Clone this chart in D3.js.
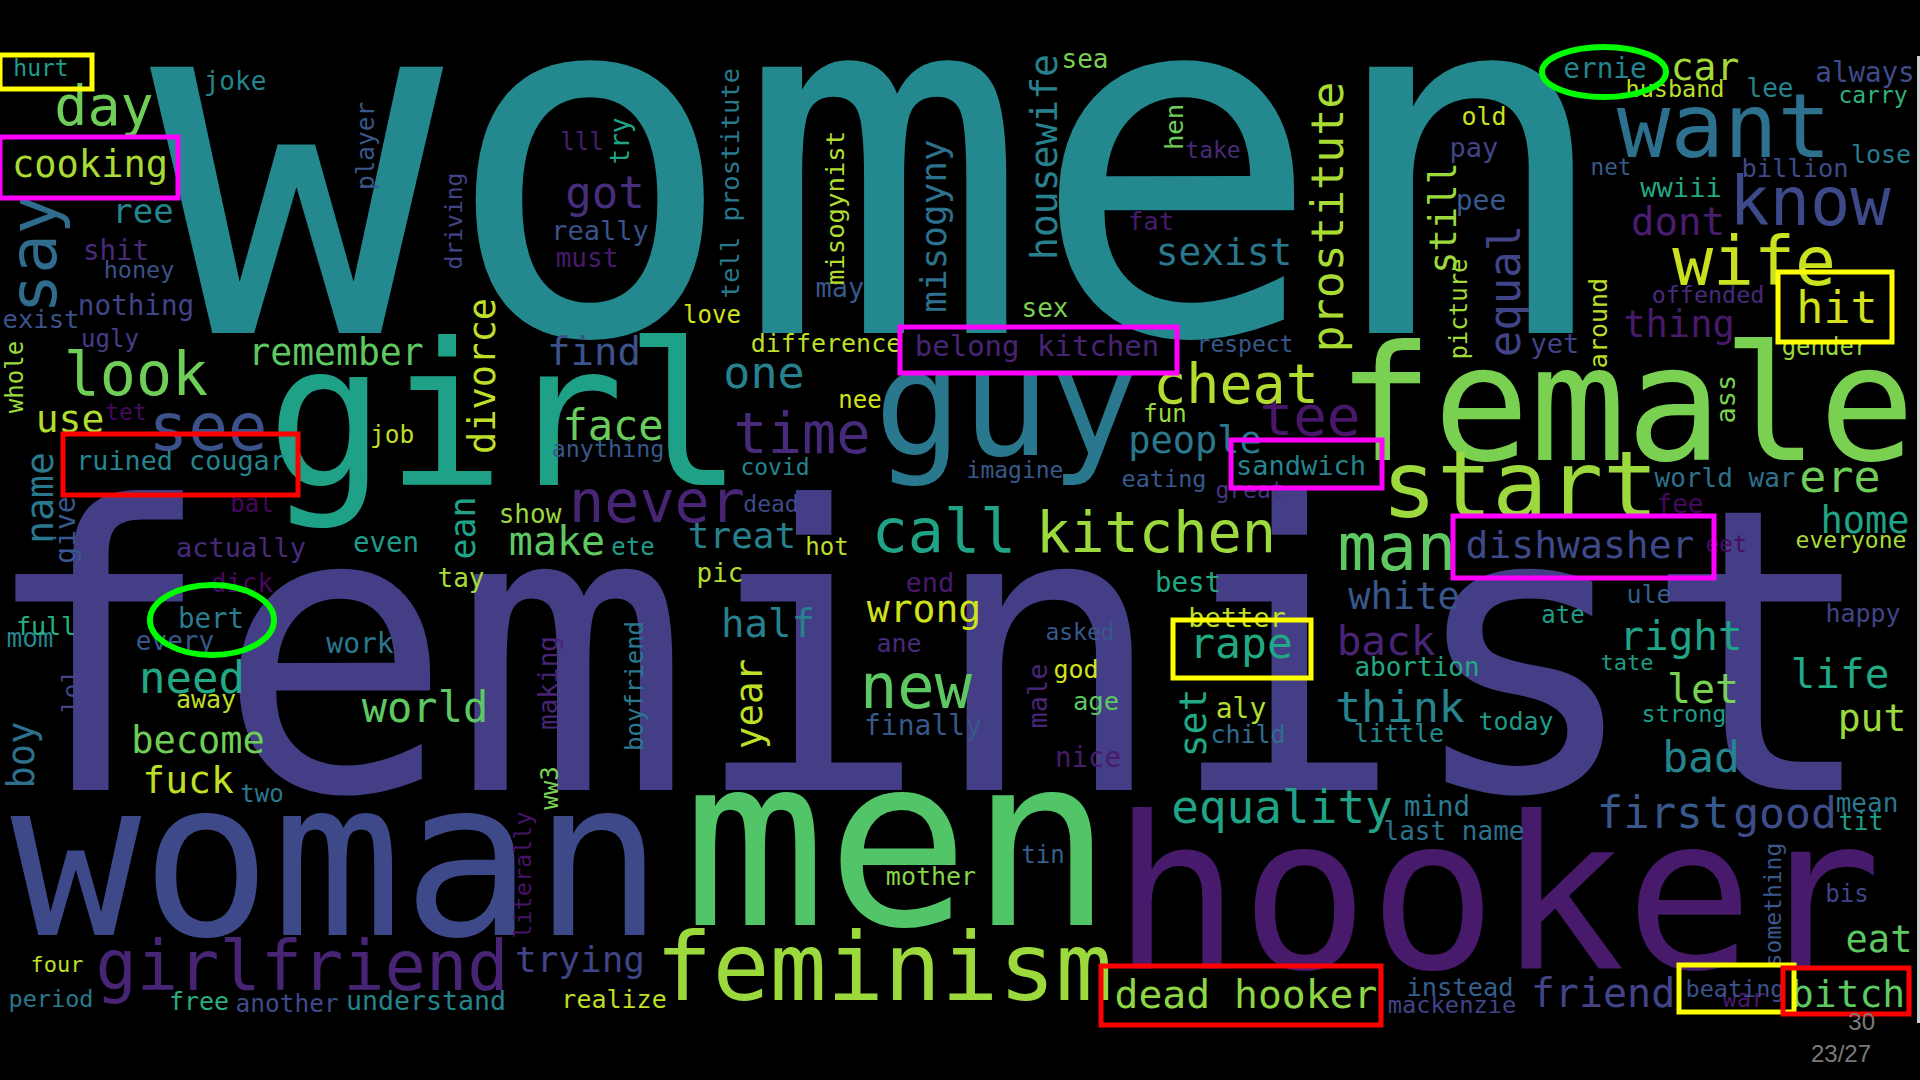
<!DOCTYPE html>
<html>
<head>
<meta charset="utf-8">
<script src="https://cdn.jsdelivr.net/npm/d3@7"></script>
<style>
  html, body { margin: 0; padding: 0; background: #000; }
  svg { display: block; }
</style>
</head>
<body>
<div class="chart"></div>
<script>
// word cloud - words found in comments, with highlighted terms

// word, weight (font px), colour tone on viridis 0..1
const cloudWords = [
  ['women', 487, .47], ['feminist', 395, .18], ['girl', 198, .57], ['woman', 217, .22],
  ['men', 238, .73], ['hooker', 213, .07], ['female', 160, .8], ['guy', 146, .4],
  ['feminism', 95, .85], ['start', 92, .85], ['want', 89, .37], ['girlfriend', 68.6, .1],
  ['wife', 68, .92], ['know', 67, .22], ['see', 66, .25], ['man', 66, .75], ['say', 66, .35],
  ['new', 62, .75], ['look', 60, .78], ['call', 60, .58], ['never', 58.5, .1],
  ['kitchen', 57, .85], ['time', 57, .12], ['tee', 56, .06], ['cheat', 55, .88], ['day', 55, .78],
  ['equality', 46, .58], ['hit', 45, .93], ['one', 45, .43], ['ere', 45, .78], ['prostitute', 45, .87],
  ['got', 44, .13], ['need', 44, .6], ['first', 44, .27], ['equal', 44, .2],
  ['rape', 43, .6], ['think', 43, .45], ['good', 43, .23], ['bad', 43, .45],
  ['face', 42, .77], ['world', 42, .75], ['back', 41, .1], ['right', 41, .58], ['life', 41, .6],
  ['make', 40, .75], ['let', 40, .8], ['friend', 40, .2], ['dead hooker', 39.7, .83],
  ['find', 39, .25], ['dont', 39, .08], ['half', 39, .43],
  ['car', 38, .86], ['use', 38, .88], ['wrong', 38, .93], ['dishwasher', 38, .22], ['put', 38, .85],
  ['fuck', 38, .9], ['bitch', 38, .75], ['sexist', 37.8, .4], ['housewife', 38, .43], ['name', 38, .4],
  ['set', 38, .6], ['year', 37.5, .9], ['cooking', 37, .87], ['thing', 37, .07], ['people', 37, .4],
  ['white', 37, .27], ['home', 37, .58], ['become', 37, .78], ['eat', 37, .75], ['still', 37, .85],
  ['divorce', 37, .9], ['boy', 37, .37], ['remember', 36.4, .75], ['ree', 34, .45], ['treat', 36, .43],
  ['trying', 36, .2], ['misogyny', 36, .37], ['ean', 35, .58],
  ['belong kitchen', 29, .1], ['nothing', 27.6, .2], ['shit', 27.5, .12], ['always', 27.5, .23],
  ['even', 27.5, .55], ['dick', 25.7, .02], ['bert', 27.5, .42], ['best', 27.5, .6], ['mind', 27.5, .4],
  ['nice', 27.5, .07], ['ernie', 27.7, .45], ['really', 27, .25], ['may', 27, .27], ['pay', 27, .2],
  ['wwiii', 27, .6], ['yet', 27, .2], ['actually', 27, .12], ['end', 27, .07], ['sandwich', 27, .45],
  ['better', 27, .9], ['ass', 27, .8], ['male', 27, .1], ['ruined cougar', 26.8, .45],
  ['understand', 26.6, .45], ['pee', 28, .27], ['work', 28, .4], ['aly', 28, .88], ['finally', 28, .27],
  ['give', 28, .27], ['joke', 26, .45], ['must', 26, .07], ['sea', 26, .8], ['sex', 26, .8],
  ['lee', 26, .45], ['tay', 26, .87], ['mom', 26, .45], ['every', 26, .27], ['show', 26, .85],
  ['pic', 26, .88], ['abortion', 26, .6], ['world war', 26, .37], ['fee', 26, .02],
  ['last name', 26, .37], ['mean', 26, .4], ['try', 26, .58], ['making', 26, .1],
  ['fat', 25.6, .07], ['exist', 25.6, .25], ['misogynist', 25.6, .88], ['hen', 25.6, .78],
  ['age', 25.6, .75], ['tell prostitute', 25.5, .4], ['billion', 25.4, .22], ['instead', 25.4, .3],
  ['difference', 25, .9], ['lose', 25, .42], ['old', 25, .92], ['full', 25, .63], ['away', 25, .9],
  ['ane', 25, .12], ['god', 25, .93], ['ule', 25, .3], ['happy', 25, .2], ['today', 25, .55],
  ['little', 25, .47], ['child', 25, .35], ['tit', 25, .55], ['mother', 25, .82], ['realize', 25, .9],
  ['free', 25, .63], ['lol', 25, .2], ['around', 25, .9],
  ['job', 24.5, .9], ['another', 24.5, .23], ['lll', 24, .08], ['love', 24, .93], ['ugly', 24, .18],
  ['bal', 24, .02], ['nee', 24, .93], ['ete', 24, .55], ['hot', 24, .9], ['fun', 24, .85],
  ['ate', 24, .55], ['gender', 24, .85], ['tin', 24, .3], ['bis', 24, .2], ['war', 24, .06],
  ['two', 24, .4], ['player', 24.4, .27], ['whole', 24, .85], ['picture', 24, .86], ['boyfriend', 24, .4],
  ['ww3', 24, .8], ['mackenzie', 23.7, .2], ['honey', 23.5, .25], ['husband', 23.5, .9],
  ['offended', 23.4, .12], ['anything', 23.4, .27], ['eating', 23.5, .27], ['strong', 23.5, .55],
  ['beating', 23.5, .25], ['period', 23.5, .4], ['literally', 23.5, .05], ['hurt', 23, .55],
  ['take', 23, .12], ['respect', 23, .27], ['carry', 23, .65], ['tet', 23, .02], ['covid', 23, .45],
  ['dead', 23, .22], ['imagine', 23, .27], ['great', 23, .15], ['asked', 23, .27],
  ['eet', 23, .03], ['everyone', 23, .87], ['driving', 23, .2], ['something', 23, .27],
  ['net', 22.6, .28], ['tate', 22, .55], ['four', 22, .9]
]

// placement in the 1920 x 1080 picture: [x, y, rotated]
// flat words: centre x, baseline y; rotated words: baseline x, centre y
const cloudLayout = {
  women: [883, 333, 0], feminist: [929, 790, 0], girl: [505, 485, 0], woman: [337, 935, 0],
  men: [898, 925, 0], hooker: [1497, 968, 0], female: [1626, 460, 0], guy: [1006, 455, 0],
  feminism: [884, 1000, 0], start: [1520, 517, 0], want: [1724, 157, 0], girlfriend: [302, 990, 0],
  wife: [1754, 285, 0], know: [1810, 225, 0], see: [208, 450, 0], man: [1397, 570, 0], say: [56, 254, 1],
  new: [916, 708, 0], look: [136, 395, 0], call: [944, 552, 0], never: [657, 522, 0],
  kitchen: [1156, 552, 0], time: [802, 453, 0], tee: [1310, 435, 0], cheat: [1236, 403, 0], day: [104, 125, 0],
  equality: [1282, 823, 0], hit: [1837, 323, 0], one: [764, 388, 0], ere: [1840, 492, 0], prostitute: [1343, 217, 1],
  got: [605, 208, 0], need: [192, 693, 0], first: [1663, 828, 0], equal: [1520, 291, 1],
  rape: [1241, 658, 0], think: [1400, 722, 0], good: [1785, 828, 0], bad: [1701, 772, 0],
  face: [613, 440, 0], world: [425, 722, 0], back: [1386, 655, 0], right: [1681, 650, 0], life: [1840, 688, 0],
  make: [557, 555, 0], let: [1703, 703, 0], friend: [1603, 1007, 0], 'dead hooker': [1246, 1008, 0],
  find: [594, 365, 0], dont: [1678, 235, 0], half: [768, 637, 0],
  car: [1705, 80, 0], use: [70, 432, 0], wrong: [924, 622, 0], dishwasher: [1580, 558, 0], put: [1872, 731, 0],
  fuck: [188, 793, 0], bitch: [1848, 1007, 0], sexist: [1224, 265, 0], housewife: [1057, 157, 1], name: [53, 498, 1],
  set: [1206, 723, 1], year: [762, 704, 1], cooking: [90, 177, 0], thing: [1679, 337, 0], people: [1195, 453, 0],
  white: [1404, 609, 0], home: [1865, 533, 0], become: [198, 753, 0], eat: [1879, 952, 0], still: [1456, 218, 1],
  divorce: [495, 376, 1], boy: [34, 755, 1], remember: [336, 365, 0], ree: [143, 223, 0], treat: [742, 548, 0],
  trying: [580, 972, 0], misogyny: [946, 226, 1], ean: [475, 528, 1],
  'belong kitchen': [1037, 356, 0], nothing: [136, 315, 0], shit: [116, 260, 0], always: [1865, 82, 0],
  even: [386, 552, 0], dick: [242, 592, 0], bert: [211, 628, 0], best: [1188, 592, 0], mind: [1437, 816, 0],
  nice: [1088, 767, 0], ernie: [1605, 78, 0], really: [600, 240, 0], may: [840, 297, 0], pay: [1474, 157, 0],
  wwiii: [1681, 197, 0], yet: [1555, 353, 0], actually: [241, 557, 0], end: [930, 592, 0], sandwich: [1301, 475, 0],
  better: [1237, 627, 0], ass: [1735, 399, 1], male: [1047, 696, 1], 'ruined cougar': [181, 470, 0],
  understand: [426, 1010, 0], pee: [1481, 210, 0], work: [360, 653, 0], aly: [1241, 718, 0], finally: [923, 735, 0],
  give: [75, 530, 1], joke: [235, 90, 0], must: [587, 267, 0], sea: [1085, 68, 0], sex: [1045, 317, 0],
  lee: [1770, 97, 0], tay: [461, 587, 0], mom: [30, 647, 0], every: [175, 650, 0], show: [530, 523, 0],
  pic: [720, 582, 0], abortion: [1417, 676, 0], 'world war': [1725, 487, 0], fee: [1680, 513, 0],
  'last name': [1454, 840, 0], mean: [1867, 812, 0], try: [629, 141, 1], making: [557, 683, 1],
  fat: [1151, 230, 0], exist: [41, 328, 0], misogynist: [844, 208, 1], hen: [1183, 127, 1],
  age: [1096, 710, 0], 'tell prostitute': [739, 183, 1], billion: [1795, 177, 0], instead: [1460, 996, 0],
  difference: [826, 352, 0], lose: [1881, 163, 0], old: [1484, 125, 0], full: [46, 635, 0], away: [206, 708, 0],
  ane: [899, 652, 0], god: [1076, 678, 0], ule: [1649, 603, 0], happy: [1863, 622, 0], today: [1516, 730, 0],
  little: [1399, 742, 0], child: [1248, 743, 0], tit: [1861, 830, 0], mother: [931, 885, 0], realize: [614, 1008, 0],
  free: [199, 1010, 0], lol: [80, 691, 1], around: [1607, 323, 1],
  job: [392, 443, 0], another: [287, 1012, 0], lll: [582, 150, 0], love: [712, 323, 0], ugly: [110, 347, 0],
  bal: [252, 512, 0], nee: [860, 408, 0], ete: [633, 555, 0], hot: [827, 555, 0], fun: [1165, 422, 0],
  ate: [1563, 623, 0], gender: [1825, 355, 0], tin: [1043, 863, 0], bis: [1847, 902, 0], war: [1744, 1007, 0],
  two: [262, 802, 0], player: [374, 146, 1], whole: [23, 377, 1], picture: [1467, 309, 1], boyfriend: [643, 686, 1],
  ww3: [558, 788, 1], mackenzie: [1452, 1013, 0], honey: [139, 278, 0], husband: [1675, 97, 0],
  offended: [1708, 303, 0], anything: [608, 457, 0], eating: [1164, 487, 0], strong: [1684, 722, 0],
  beating: [1735, 997, 0], period: [51, 1007, 0], literally: [531, 875, 1], hurt: [41, 76, 0],
  take: [1213, 158, 0], respect: [1245, 352, 0], carry: [1873, 103, 0], tet: [126, 420, 0], covid: [775, 475, 0],
  dead: [771, 512, 0], imagine: [1015, 478, 0], great: [1250, 498, 0], asked: [1080, 640, 0],
  eet: [1726, 552, 0], everyone: [1851, 548, 0], driving: [462, 221, 1], something: [1781, 905, 1],
  net: [1611, 175, 0], tate: [1627, 670, 0], four: [57, 972, 0]
}

// hand-drawn highlights laid over the cloud
const boxes = [
  ['hurt', '#ffff00', 0, 55, 92, 89], ['cooking', '#ff00ff', 0, 137, 178, 198],
  ['belong kitchen', '#ff00ff', 900, 327, 1177, 373], ['hit', '#ffff00', 1778, 272, 1892, 342],
  ['ruined cougar', '#ff0000', 63, 434, 298, 495], ['sandwich', '#ff00ff', 1231, 440, 1382, 488],
  ['dishwasher', '#ff00ff', 1453, 516, 1714, 578], ['rape', '#ffff00', 1173, 620, 1311, 678],
  ['dead hooker', '#ff0000', 1101, 966, 1381, 1025], ['beating', '#ffff00', 1679, 965, 1794, 1012],
  ['bitch', '#ff0000', 1783, 968, 1909, 1014]
]
const rings = [
  ['ernie', 1604, 72, 62, 25], ['bert', 212, 620, 62, 35]
]
const pageLabels = [['30', 1875, 1030], ['23/27', 1871, 1062]]

const width = 1920
const height = 1080

const svg = d3.select('.chart')
  .append('svg')
  .attr('width', width)
  .attr('height', height)

svg.append('rect')
  .attr('width', width)
  .attr('height', height)
  .attr('fill', '#000')

const xScale = d3.scaleLinear().domain([0, 1920]).range([0, width])
const yScale = d3.scaleLinear().domain([0, 1080]).range([0, height])
const sizeScale = d3.scaleLinear().domain([0, 100]).range([0, 100])
const colorScale = d3.scaleSequential(d3.interpolateViridis).domain([0, 1])

// thin light edge of the pasted picture
svg.append('rect')
  .attr('x', xScale(1917))
  .attr('y', yScale(56))
  .attr('width', 3)
  .attr('height', yScale(1023) - yScale(56))
  .attr('fill', '#cfcfcf')

// words
svg.append('g').selectAll('text')
  .data(cloudWords)
  .enter()
  .append('text')
  .attr('transform', d => {
    const p = cloudLayout[d[0]]
    return `translate(${xScale(p[0])},${yScale(p[1])})` + (p[2] ? ' rotate(-90)' : '')
  })
  .attr('text-anchor', 'middle')
  .attr('font-family', 'DejaVu Sans Mono, monospace')
  .attr('font-size', d => sizeScale(d[1]) + 'px')
  .attr('fill', d => colorScale(d[2]))
  .text(d => d[0])

// rectangles
svg.append('g').selectAll('rect')
  .data(boxes)
  .enter()
  .append('rect')
  .attr('x', d => xScale(d[2]))
  .attr('y', d => yScale(d[3]))
  .attr('width', d => xScale(d[4]) - xScale(d[2]))
  .attr('height', d => yScale(d[5]) - yScale(d[3]))
  .attr('fill', 'none')
  .attr('stroke', d => d[1])
  .attr('stroke-width', 5)

// ellipses
svg.append('g').selectAll('ellipse')
  .data(rings)
  .enter()
  .append('ellipse')
  .attr('cx', d => xScale(d[1]))
  .attr('cy', d => yScale(d[2]))
  .attr('rx', d => d[3])
  .attr('ry', d => d[4])
  .attr('fill', 'none')
  .attr('stroke', '#00ff00')
  .attr('stroke-width', 6)

// slide numbers
svg.append('g').selectAll('text')
  .data(pageLabels)
  .enter()
  .append('text')
  .attr('x', d => xScale(d[1]))
  .attr('y', d => yScale(d[2]))
  .attr('text-anchor', 'end')
  .attr('font-family', 'Liberation Sans, Arial, sans-serif')
  .attr('font-size', '24px')
  .attr('fill', '#7a7a7a')
  .text(d => d[0])
</script>
</body>
</html>
